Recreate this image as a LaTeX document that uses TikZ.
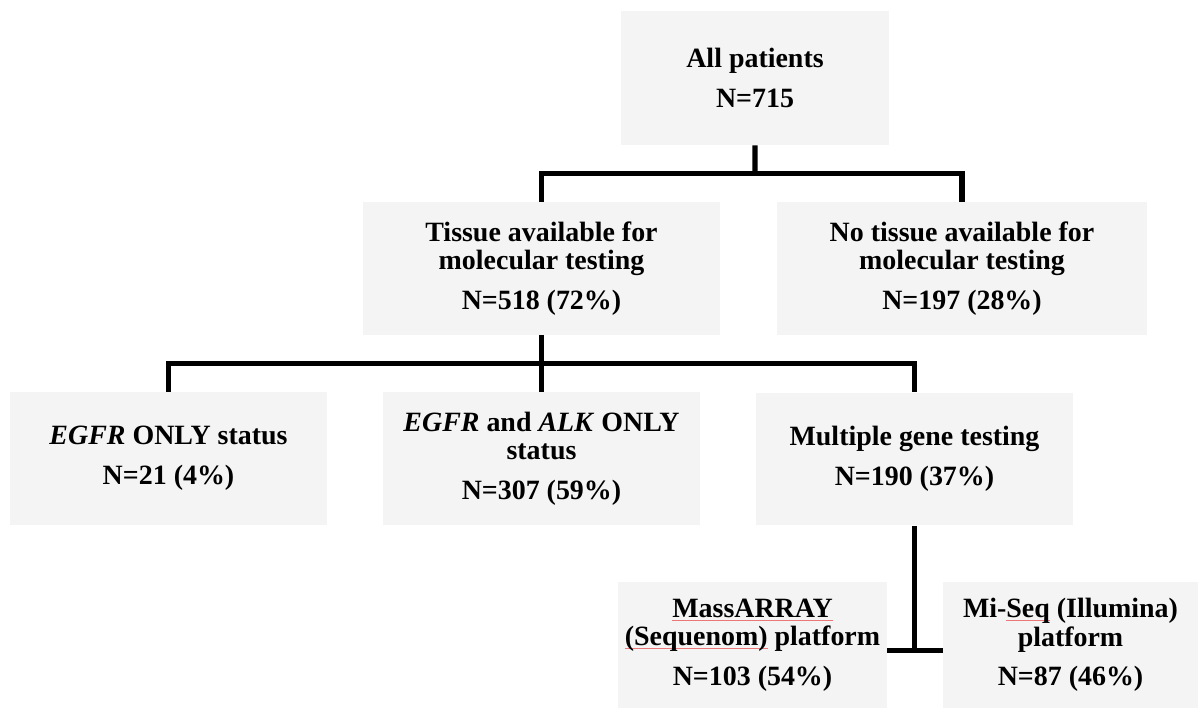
\documentclass[tikz,border=0pt]{standalone}
\usepackage{fontspec}
\setmainfont{Liberation Serif}
\usetikzlibrary{positioning, calc}

\definecolor{boxgray}{RGB}{244,244,244}
\definecolor{squigred}{RGB}{235,120,120}

% red spell-check mark under a word
\newsavebox{\squigbox}
\newcommand{\squig}[1]{\sbox{\squigbox}{#1}\rlap{\color{squigred}\rule[-2.2pt]{\wd\squigbox}{0.6pt}}\usebox{\squigbox}}

\begin{document}
\begin{tikzpicture}[
    x=0.02cm, y=-0.02cm,
    box/.style={rectangle, draw=none, fill=boxgray, inner sep=0pt, align=center, text centered,
                font=\fontsize{15.9}{16.2}\selectfont\bfseries},
    link/.style={draw=black, line width=3pt}
]
\useasboundingbox (0,0) rectangle (1198,710);

% TOP LEVEL
\node[box, minimum width=5.36cm, minimum height=2.68cm] (allp) at (755,78) {All patients\\[6.5pt]N=715};

% TISSUE SPLIT
\node[box, minimum width=7.14cm, minimum height=2.66cm] (tissue) at (541.5,268.5) {Tissue available for\\molecular testing\\[6.5pt]N=518 (72\%)};
\node[box, minimum width=7.40cm, minimum height=2.66cm] (notissue) at (962,268.5) {No tissue available for\\molecular testing\\[6.5pt]N=197 (28\%)};

% TESTING TYPE
\node[box, minimum width=6.34cm, minimum height=2.66cm] (egfr) at (168.5,458.5) {\textit{EGFR} ONLY status\\[6.5pt]N=21 (4\%)};
\node[box, minimum width=6.34cm, minimum height=2.66cm] (egfralk) at (541.5,458.5) {\textit{EGFR} and \textit{ALK} ONLY\\status\\[6.5pt]N=307 (59\%)};
\node[box, minimum width=6.34cm, minimum height=2.66cm] (multi) at (914.5,459) {Multiple gene testing\\[6.5pt]N=190 (37\%)};

% PLATFORMS
\node[box, minimum width=5.38cm, minimum height=2.52cm] (mass) at (752.5,645) {\squig{MassARRAY}\\\squig{(Sequenom)} platform\\[6.5pt]N=103 (54\%)};
\node[box, minimum width=5.10cm, minimum height=2.52cm] (miseq) at (1070.5,645) {Mi-\squig{Seq} (Illumina)\\platform\\[6.5pt]N=87 (46\%)};

% CONNECTORS
\coordinate (split1) at ($(allp.south)!0.5!(allp.south |- tissue.north)$);
\coordinate (split2) at ($(tissue.south)!0.5!(egfralk.north)$);

\draw[link] (allp.south) -- (split1);
\draw[link] (tissue.north) |- (split1) -| (notissue.north);
\draw[link] (tissue.south) -- (egfralk.north);
\draw[link] (egfr.north) |- (split2) -| (multi.north);
\draw[link] (multi.south) -- ([yshift=-3]multi.south |- mass.east);
\draw[link] ([yshift=-3]mass.east) -- ([yshift=-3]miseq.west);

\end{tikzpicture}
\end{document}
